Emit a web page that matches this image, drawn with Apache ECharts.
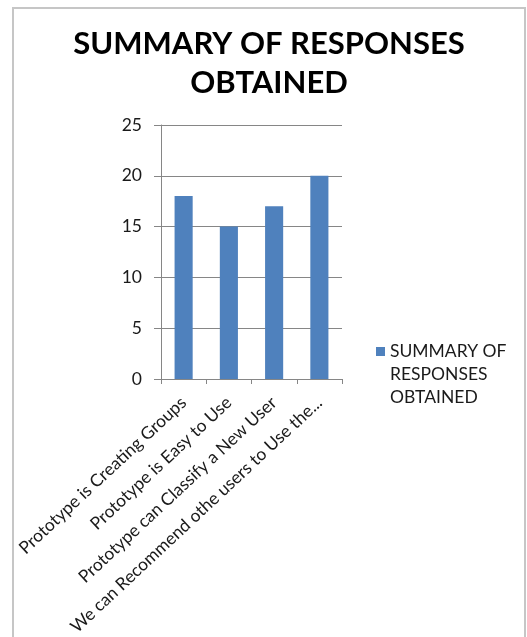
<!DOCTYPE html>
<html>
<head>
<meta charset="utf-8">
<script src="https://cdn.jsdelivr.net/npm/echarts@6/dist/echarts.min.js"></script>
<style>
  html, body { margin: 0; padding: 0; background: #fff; }
  #chart { width: 527px; height: 637px; }
</style>
</head>
<body>
<div id="chart"></div>
<script>
// Survey results: number of respondents agreeing with each statement
const categories = [
  'Prototype is Creating Groups',
  'Prototype is Easy to Use',
  'Prototype can Classify a New User',
  'We can Recommend othe users to Use the...'
];
const responses = [18, 15, 17, 20];
const seriesName = 'SUMMARY OF RESPONSES OBTAINED';
const yTicks = { min: 0, max: 25, interval: 5 };

const FONT = 'Lato';
const chart = echarts.init(document.getElementById('chart'), null, { renderer: 'canvas' });

chart.setOption({
  animation: false,
  backgroundColor: '#ffffff',
  textStyle: { fontFamily: FONT },
  title: {
    text: 'SUMMARY OF RESPONSES\nOBTAINED',
    left: 264,
    top: 19,
    textAlign: 'center',
    textStyle: {
      fontFamily: FONT,
      fontWeight: 'bold',
      fontSize: 31,
      lineHeight: 39,
      color: '#000000'
    }
  },
  graphic: [{
    // chart frame (open at the bottom)
    type: 'polyline',
    shape: { points: [[13, 637], [13, 8], [525, 8], [525, 637]] },
    style: { stroke: '#c6c6c6', lineWidth: 2, fill: null },
    silent: true
  }],
  legend: {
    left: 376,
    top: 294,
    padding: 0,
    orient: 'vertical',
    icon: 'rect',
    itemWidth: 9,
    itemHeight: 9,
    // two leading blank lines keep the first text line level with the swatch
    formatter: () => '\n\nSUMMARY OF\nRESPONSES\nOBTAINED',
    textStyle: {
      fontFamily: FONT,
      fontSize: 17.5,
      lineHeight: 23,
      color: '#1a1a1a'
    }
  },
  grid: { left: 161, top: 125, right: 185, bottom: 258, outerBoundsMode: 'none' },
  xAxis: {
    type: 'category',
    data: categories,
    axisLine: { lineStyle: { color: '#868686', width: 1 } },
    axisTick: { show: true, alignWithLabel: false, length: 5, lineStyle: { color: '#868686' } },
    axisLabel: {
      interval: 0,
      rotate: 43,
      margin: 21,
      fontFamily: FONT,
      fontSize: 17.4,
      color: '#1a1a1a'
    }
  },
  yAxis: {
    type: 'value',
    min: yTicks.min,
    max: yTicks.max,
    interval: yTicks.interval,
    axisLine: { show: true, lineStyle: { color: '#868686', width: 1 } },
    axisTick: { show: true, length: 7, lineStyle: { color: '#868686' } },
    splitLine: { show: true, lineStyle: { color: '#868686', width: 1 } },
    axisLabel: {
      margin: 19,
      fontFamily: FONT,
      fontSize: 17.5,
      color: '#1a1a1a'
    }
  },
  series: [{
    name: seriesName,
    type: 'bar',
    data: responses,
    barWidth: '40%',
    itemStyle: { color: '#4f81bd' }
  }]
});
</script>
</body>
</html>
